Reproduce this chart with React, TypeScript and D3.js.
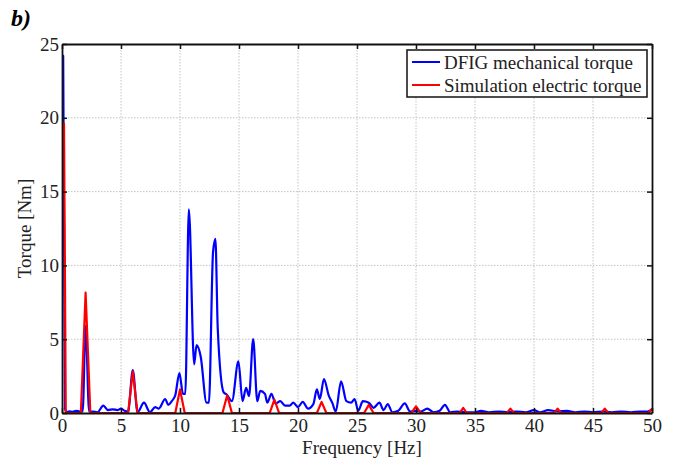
import React, { useRef, useEffect } from "react";
import * as d3 from "d3";

// DFIG mechanical torque spectrum (blue)
const blueFreq = [
  0, 0.1, 0.25, 0.4, 0.6, 0.9, 1.2, 1.5, 1.75, 2.0, 2.3, 2.6, 3.0, 3.5, 3.9, 4.3, 4.7, 5.0, 5.3, 5.6,
  6.0, 6.4, 6.95, 7.45, 7.9, 8.2, 8.75, 9.0, 9.3, 9.6, 9.95, 10.25, 10.45, 10.75, 11.2, 11.4,
  11.75, 12.25, 12.45, 12.8, 13.0, 13.2, 13.7, 13.95, 14.4, 14.95, 15.3, 15.6, 15.85, 16.2,
  16.55, 16.8, 17.2, 17.4, 17.75, 18.1, 18.5, 18.9, 19.3, 19.6, 20.0, 20.4, 20.85, 21.3, 21.6,
  21.85, 22.2, 22.6, 22.9, 23.2, 23.65, 24.1, 24.5, 24.8, 25.1, 25.5, 26.0, 26.4, 26.9, 27.25,
  27.6, 28.0, 28.5, 29.05, 29.5, 30.0, 30.4, 30.95, 31.5, 32.0, 32.45, 32.9, 33.5, 34.2, 35.0,
  35.5, 36.2, 37.0, 37.8, 38.5, 39.3, 40.0, 40.5, 41.2, 42.0, 42.8, 43.5, 44.3, 45.0, 45.8,
  46.6, 47.4, 48.2, 49.0, 49.6, 50.0,
];
const blueTorque = [
  24.2, 24.2, 0.3, 0.05, 0.12, 0.08, 0.15, 0.1, 0.1, 5.9, 0.1, 0.1, 0.05, 0.5, 0.2, 0.25, 0.2, 0.3, 0.15, 0.1,
  2.9, 0.05, 0.7, 0.05, 0.4, 0.3, 0.95, 0.55, 0.8, 1.2, 2.7, 1.3, 1.3, 13.8, 3.3, 4.6,
  3.85, 0.7, 0.7, 10.9, 11.8, 5.7, 1.4, 1.25, 0.8, 3.5, 0.8, 1.7, 1.15, 5.0,
  0.8, 1.5, 1.3, 0.7, 1.3, 0.65, 0.8, 0.5, 0.5, 0.7, 0.4, 0.75, 0.3, 0.6, 1.6,
  0.95, 2.3, 1.2, 0.7, 0.1, 2.15, 0.8, 0.7, 0.95, 0.15, 0.8, 0.7, 0.35, 0.7, 0.2,
  0.6, 0.05, 0.15, 0.65, 0.1, 0.15, 0.1, 0.3, 0.05, 0.15, 0.55, 0.05, 0.1, 0.05, 0.05,
  0.15, 0.05, 0.1, 0.05, 0.1, 0.05, 0.2, 0.05, 0.2, 0.1, 0.15, 0.05, 0.1, 0.05, 0.1,
  0.05, 0.1, 0.05, 0.1, 0.1, 0.25,
];

// Simulation electric torque spectrum (red)
const redFreq = [
  0, 0.17, 0.32, 1.6, 2.0, 2.4, 5.6, 6.0, 6.4, 9.6, 10.0, 10.4, 13.6, 14.0, 14.4, 17.6, 18.0, 18.4,
  21.6, 22.0, 22.4, 25.6, 26.0, 26.4, 29.6, 30.0, 30.4, 33.7, 34.0, 34.3, 37.7, 38.0, 38.3,
  41.7, 42.0, 42.3, 45.7, 46.0, 46.3, 49.7, 50.0,
];
const redTorque = [
  19.6, 19.6, 0, 0, 8.15, 0, 0, 2.8, 0, 0, 1.6, 0, 0, 1.2, 0, 0, 0.9, 0,
  0, 0.75, 0, 0, 0.55, 0, 0, 0.45, 0, 0, 0.35, 0, 0, 0.3, 0,
  0, 0.3, 0, 0, 0.3, 0, 0, 0.3,
];

const xTicks = [0, 5, 10, 15, 20, 25, 30, 35, 40, 45, 50];
const yTicks = [0, 5, 10, 15, 20, 25];
const legendLabels = ["DFIG mechanical torque", "Simulation electric torque"];
const legendColors = ["#0000ff", "#ff0000"];

const FONT = "Liberation Serif, Times New Roman, DejaVu Serif, serif";

const App = () => {
  const svgRef = useRef<SVGSVGElement>(null);

  useEffect(() => {
    document.body.style.margin = "0";
    const width = 678;
    const height = 460;
    const margin = { top: 44, right: 26, bottom: 47, left: 62 };
    const iw = width - margin.left - margin.right;
    const ih = height - margin.top - margin.bottom;

    const root = d3.select(svgRef.current);
    root.selectAll("*").remove();
    root
      .attr("width", width)
      .attr("height", height)
      .attr("font-family", FONT)
      .style("background", "#fff");

    const svg = root.append("g").attr("transform", `translate(${margin.left},${margin.top})`);

    const xScale = d3.scaleLinear().domain([0, 50]).range([0, iw]);
    const yScale = d3.scaleLinear().domain([0, 25]).range([ih, 0]);

    // grid
    svg
      .selectAll(".gx")
      .data(xTicks.slice(1, -1))
      .enter()
      .append("line")
      .attr("x1", (d) => xScale(d))
      .attr("x2", (d) => xScale(d))
      .attr("y1", 0)
      .attr("y2", ih)
      .attr("stroke", "#c4c4c4")
      .attr("stroke-dasharray", "1.5,1.5");
    svg
      .selectAll(".gy")
      .data(yTicks.slice(1, -1))
      .enter()
      .append("line")
      .attr("x1", 0)
      .attr("x2", iw)
      .attr("y1", (d) => yScale(d))
      .attr("y2", (d) => yScale(d))
      .attr("stroke", "#c4c4c4")
      .attr("stroke-dasharray", "1.5,1.5");

    svg
      .append("clipPath")
      .attr("id", "plotclip")
      .append("rect")
      .attr("x", 0)
      .attr("y", -2)
      .attr("width", iw + 1)
      .attr("height", ih + 2);

    const blueData = blueFreq.map((f, i) => [f, blueTorque[i]] as [number, number]);
    const redData = redFreq.map((f, i) => [f, redTorque[i]] as [number, number]);

    const blueLine = d3
      .line<[number, number]>()
      .x((d) => xScale(d[0]))
      .y((d) => yScale(d[1]))
      .curve(d3.curveMonotoneX);
    const redLine = d3
      .line<[number, number]>()
      .x((d) => xScale(d[0]))
      .y((d) => yScale(d[1]));

    const plot = svg.append("g").attr("clip-path", "url(#plotclip)");
    plot
      .append("path")
      .attr("d", blueLine(blueData))
      .attr("fill", "none")
      .attr("stroke", legendColors[0])
      .attr("stroke-width", 2.2)
      .attr("stroke-linejoin", "round");
    plot
      .append("path")
      .attr("d", redLine(redData))
      .attr("fill", "none")
      .attr("stroke", legendColors[1])
      .attr("stroke-width", 2.2)
      .attr("stroke-linejoin", "round");

    // axes box with inward ticks on every side
    const tickLen = 5;
    const axisColor = "#111";
    const axBottom = d3.axisBottom(xScale).tickValues(xTicks).tickSizeInner(-tickLen).tickSizeOuter(0).tickFormat(d3.format("d"));
    const axTop = d3.axisTop(xScale).tickValues(xTicks).tickSizeInner(-tickLen).tickSizeOuter(0).tickFormat(() => "");
    const axLeft = d3.axisLeft(yScale).tickValues(yTicks).tickSizeInner(-tickLen).tickSizeOuter(0).tickFormat(d3.format("d"));
    const axRight = d3.axisRight(yScale).tickValues(yTicks).tickSizeInner(-tickLen).tickSizeOuter(0).tickFormat(() => "");

    const styleAxis = (g: any) => {
      g.attr("font-family", FONT).attr("font-size", 19);
      g.select(".domain").attr("stroke", axisColor).attr("stroke-width", 1.8);
      g.selectAll(".tick line").attr("stroke", axisColor).attr("stroke-width", 1.5);
      g.selectAll(".tick text").attr("fill", "#222");
    };

    svg.append("g").attr("transform", `translate(0,${ih})`).call(axBottom).call(styleAxis)
      .selectAll(".tick text").attr("y", 6).attr("dy", "0.71em");
    svg.append("g").call(axTop).call(styleAxis);
    svg.append("g").call(axLeft).call(styleAxis).selectAll(".tick text").attr("x", -3);
    svg.append("g").attr("transform", `translate(${iw},0)`).call(axRight).call(styleAxis);

    // axis labels
    svg
      .append("text")
      .attr("x", iw / 2 + 5)
      .attr("y", ih + 41)
      .attr("text-anchor", "middle")
      .attr("font-size", 19)
      .attr("fill", "#222")
      .text("Frequency [Hz]");
    svg
      .append("text")
      .attr("transform", `translate(${-31},${ih / 2}) rotate(-90)`)
      .attr("text-anchor", "middle")
      .attr("font-size", 19)
      .attr("fill", "#222")
      .text("Torque [Nm]");

    // panel label
    root
      .append("text")
      .attr("x", 11)
      .attr("y", 26)
      .attr("font-size", 24)
      .attr("font-weight", "bold")
      .attr("font-style", "italic")
      .text("b)");

    // legend
    const legend = root.append("g").attr("transform", "translate(407,50)");
    legend
      .append("rect")
      .attr("width", 240)
      .attr("height", 47)
      .attr("fill", "#fff")
      .attr("stroke", "#111")
      .attr("stroke-width", 1.5);
    const items = legend
      .selectAll(".legend-item")
      .data(legendLabels)
      .enter()
      .append("g")
      .attr("transform", (d, i) => `translate(0,${12 + i * 23})`);
    items
      .append("line")
      .attr("x1", 5)
      .attr("x2", 33)
      .attr("stroke", (d, i) => legendColors[i])
      .attr("stroke-width", 2);
    items
      .append("text")
      .attr("x", 37)
      .attr("y", 6.5)
      .attr("font-size", 19)
      .attr("fill", "#222")
      .text((d) => d);
  }, []);

  return <svg ref={svgRef}></svg>;
};

export default App;
